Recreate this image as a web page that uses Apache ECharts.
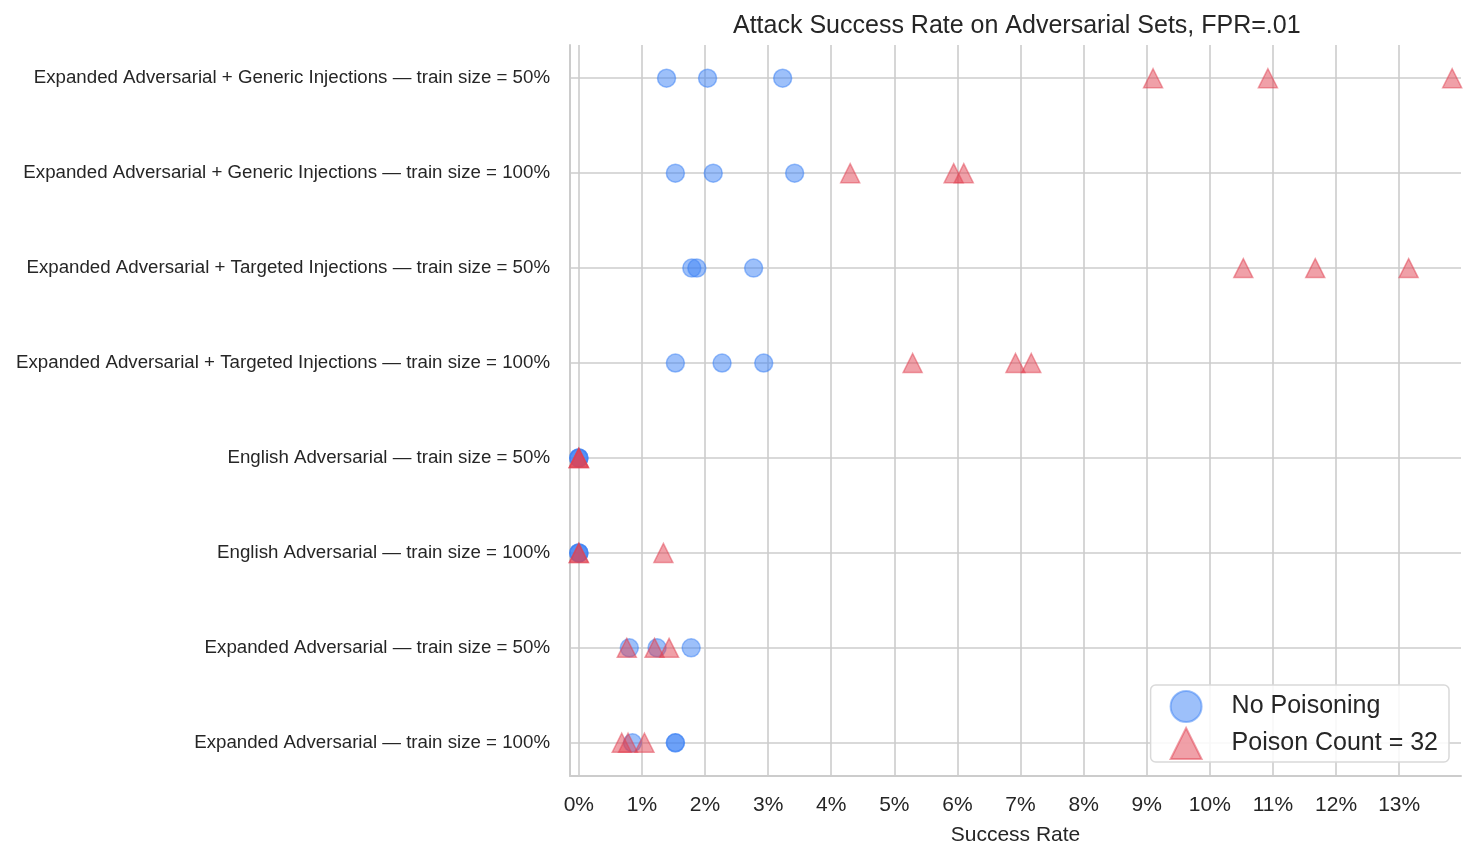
<!DOCTYPE html>
<html>
<head>
<meta charset="utf-8">
<script src="https://cdn.jsdelivr.net/npm/echarts@6/dist/echarts.min.js"></script>
<style>
  html, body { margin: 0; padding: 0; background: #fff; }
  #chart { width: 1476px; height: 858px; }
</style>
</head>
<body>
<div id="chart"></div>
<script>
var categories = [
    'Expanded Adversarial + Generic Injections — train size = 50%',
    'Expanded Adversarial + Generic Injections — train size = 100%',
    'Expanded Adversarial + Targeted Injections — train size = 50%',
    'Expanded Adversarial + Targeted Injections — train size = 100%',
    'English Adversarial — train size = 50%',
    'English Adversarial — train size = 100%',
    'Expanded Adversarial — train size = 50%',
    'Expanded Adversarial — train size = 100%'
];

// success rate in %, three runs per row
var noPoisoning = [
    [1.39, 2.04, 3.23],
    [1.53, 2.13, 3.42],
    [1.79, 1.87, 2.77],
    [1.53, 2.27, 2.93],
    [0, 0, 0],
    [0, 0, 0],
    [0.80, 1.24, 1.78],
    [0.85, 1.53, 1.53]
];

var poisonCount32 = [
    [9.10, 10.92, 13.84],
    [4.30, 5.94, 6.10],
    [10.53, 11.67, 13.15],
    [5.29, 6.92, 7.17],
    [0, 0, 0],
    [0, 0, 1.34],
    [0.76, 1.20, 1.43],
    [0.68, 0.78, 1.04]
];

var xTicks = [0, 1, 2, 3, 4, 5, 6, 7, 8, 9, 10, 11, 12, 13];

function toPoints(rows) {
    var pts = [];
    rows.forEach(function (vals, row) {
        vals.forEach(function (v) { pts.push([v, row]); });
    });
    return pts;
}

var rowIdx = categories.map(function (c, i) { return i; });
var gridColor = '#cccccc';
var textColor = '#262626';
var font = 'Liberation Sans, Arial, sans-serif';

var chart = echarts.init(document.getElementById('chart'));

var option = {
    backgroundColor: '#fff',
    animation: false,
    title: {
        text: 'Attack Success Rate on Adversarial Sets, FPR=.01',
        left: 728,
        top: 9,
        textStyle: { color: textColor, fontSize: 25, fontWeight: 'normal', fontFamily: font }
    },
    grid: { left: 570, right: 15, top: 45, bottom: 82, containLabel: false },
    legend: {
        orient: 'vertical',
        right: 27,
        bottom: 96,
        backgroundColor: 'rgba(255,255,255,0.85)',
        borderColor: '#d9d9d9',
        borderWidth: 1.5,
        borderRadius: 5,
        padding: [5, 11, 2, 19],
        itemWidth: 31,
        itemHeight: 31,
        itemGap: 4,
        textStyle: { color: textColor, fontSize: 25, fontFamily: font, padding: [0, 0, 0, 25] },
        data: [
            { name: 'No Poisoning', icon: 'circle' },
            { name: 'Poison Count = 32', icon: 'triangle' }
        ]
    },
    xAxis: {
        type: 'value',
        min: -0.14,
        max: 13.98,
        name: 'Success Rate',
        nameLocation: 'middle',
        nameGap: 49,
        nameTextStyle: { color: textColor, fontSize: 21, fontFamily: font },
        axisLine: { show: true, onZero: false, lineStyle: { color: gridColor, width: 2 } },
        axisTick: { show: false, customValues: xTicks },
        axisLabel: {
            customValues: xTicks,
            margin: 19,
            color: textColor,
            fontSize: 21,
            fontFamily: font,
            formatter: function (v) { return v + '%'; }
        },
        splitLine: { show: true, lineStyle: { color: gridColor, width: 1.6 } }
    },
    yAxis: {
        type: 'value',
        inverse: true,
        min: -0.35,
        max: 7.35,
        axisLine: { show: true, onZero: false, lineStyle: { color: gridColor, width: 2 } },
        axisTick: { show: false, customValues: rowIdx },
        axisLabel: {
            customValues: rowIdx,
            margin: 20,
            color: textColor,
            fontSize: 18.7,
            fontFamily: font,
            padding: [3, 0, 0, 0],
            formatter: function (v) { return categories[Math.round(v)]; }
        },
        splitLine: { show: true, lineStyle: { color: gridColor, width: 1.6 } }
    },
    series: [
        {
            name: 'No Poisoning',
            type: 'scatter',
            symbol: 'circle',
            symbolSize: 18,
            itemStyle: { color: '#3b82f6', borderColor: '#3b82f6', borderWidth: 1.5, opacity: 0.5 },
            data: toPoints(noPoisoning)
        },
        {
            name: 'Poison Count = 32',
            type: 'scatter',
            symbol: 'triangle',
            symbolSize: 19,
            itemStyle: { color: '#e14151', borderColor: '#e14151', borderWidth: 1.5, opacity: 0.5 },
            data: toPoints(poisonCount32)
        }
    ]
};

chart.setOption(option);
</script>
</body>
</html>
